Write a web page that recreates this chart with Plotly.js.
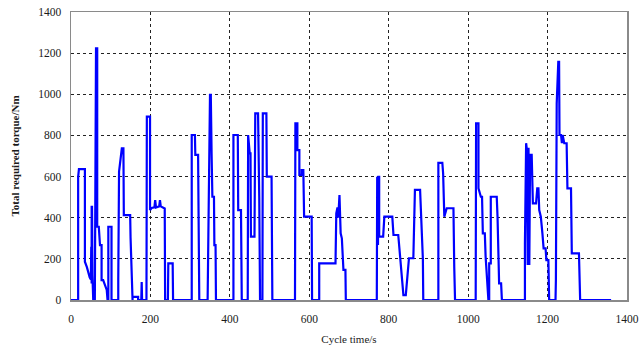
<!DOCTYPE html>
<html>
<head>
<meta charset="utf-8">
<script src="https://cdn.plot.ly/plotly-3.0.1.min.js"></script>
<style>html,body{margin:0;padding:0;background:#fff;}#chart{width:641px;height:356px;}</style>
</head>
<body>
<div id="chart"></div>
<script>
// Cycle time (s) and total required torque (Nm)
var cycleTime = [0,18,18,20,35,35,40,44,47,50,51,52,52,53,54,56,60,61,63,66,66,70,72,73,77,77,81,90,92,94,94,102,102,119,119,121,128,132,133,149,150,153,155,155,169,169,177,178,179,190,191,199,199,203,210,212,214,222,224,226,236,237,244,245,256,257,304,304,312,313,320,321,323,344,345,347,350,352,354,356,360,361,364,365,409,409,420,421,428,430,445,446,450,452,453,462,464,471,474,476,482,483,492,493,505,507,564,565,570,570,575,575,581,581,585,587,606,607,625,625,666,668,671,673,676,677,679,682,686,691,692,770,771,773,774,776,776,786,789,809,812,824,826,833,837,843,848,851,862,866,879,881,886,887,925,925,935,937,940,946,963,965,967,1019,1020,1026,1026,1032,1035,1037,1042,1044,1048,1051,1053,1053,1057,1057,1072,1074,1078,1083,1085,1143,1143,1146,1148,1150,1152,1154,1156,1160,1163,1171,1174,1177,1179,1183,1187,1190,1195,1197,1202,1204,1220,1221,1223,1227,1229,1230,1234,1236,1238,1242,1248,1250,1259,1261,1279,1282,1360];
var torque = [0,0,599,636,636,186,160,130,110,100,259,80,453,453,120,0,0,1054,1223,1223,356,356,300,267,267,97,97,49,0,0,356,356,0,0,97,624,737,737,413,413,301,97,0,15,15,0,0,88,0,0,891,891,437,447,450,486,450,455,486,455,445,0,0,178,178,0,0,802,802,705,705,399,0,0,348,502,997,997,713,502,502,267,267,0,0,802,802,437,437,0,0,802,713,713,308,308,907,907,500,0,0,907,907,600,600,0,0,859,859,729,729,608,608,632,632,405,405,0,0,178,178,421,450,400,510,420,324,300,146,146,0,0,599,267,599,599,308,308,405,405,316,316,267,81,24,24,130,203,203,535,535,405,200,0,0,667,667,616,405,446,446,162,0,0,859,859,543,502,502,324,324,211,81,0,0,178,178,502,502,405,81,81,0,0,276,762,729,170,740,170,705,705,470,470,543,543,437,405,324,251,251,194,194,0,0,100,956,1158,1158,802,802,762,802,762,762,543,543,227,227,0,0];
var xTicks = [0,200,400,600,800,1000,1200,1400];
var yTicks = [0,200,400,600,800,1000,1200,1400];

var serif = 'Liberation Serif, DejaVu Serif, serif';
var trace = {
  x: cycleTime, y: torque, type: 'scatter', mode: 'lines',
  line: {color: '#0000ff', width: 2.2}, hoverinfo: 'skip'
};
var axisCommon = {
  showline: true, mirror: true, linecolor: '#8a8a8a', linewidth: 1.5,
  showgrid: true, gridcolor: '#222', griddash: 'dot', gridwidth: 1.2,
  zeroline: false, ticks: '', tickfont: {family: serif, size: 11.5, color: '#1a1a1a'}
};
var layout = {
  width: 641, height: 356,
  margin: {l: 71, r: 14, t: 12, b: 56},
  paper_bgcolor: '#fff', plot_bgcolor: '#fff', showlegend: false,
  xaxis: Object.assign({}, axisCommon, {
    range: [0, 1400], tickvals: xTicks, ticktext: xTicks.map(String),
    ticklabelstandoff: 8,
    title: {text: 'Cycle time/s', font: {family: serif, size: 11, color: '#1a1a1a'}, standoff: 11}
  }),
  yaxis: Object.assign({}, axisCommon, {
    range: [0, 1400], tickvals: yTicks, ticktext: yTicks.map(String),
    ticklabelstandoff: 6,
    title: {text: '<b>Total required torque/Nm</b>', font: {family: serif, size: 11, color: '#1a1a1a'}, standoff: 16}
  })
};
Plotly.newPlot('chart', [trace], layout, {staticPlot: true, displayModeBar: false});
</script>
</body>
</html>
